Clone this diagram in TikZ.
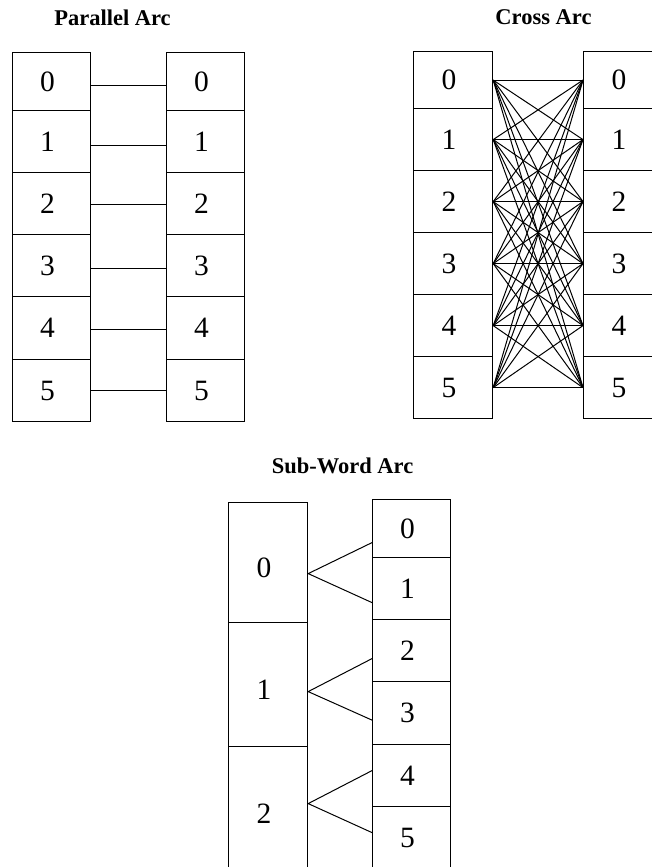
\documentclass[tikz,border=0pt]{standalone}
\usepackage{fontspec}
\setmainfont{Liberation Serif}
\begin{document}
\begin{tikzpicture}[x=1pt,y=-1pt,
  cell/.style={draw, line width=1.2pt, rectangle, inner sep=0pt, anchor=north west},
  digit/.style={font=\fontsize{29.5}{29.5}\selectfont, inner sep=0pt, xshift=-4pt},
  title/.style={font=\fontsize{22.5}{22.5}\selectfont\bfseries, anchor=base, inner sep=0pt},
  wire/.style={line width=1pt}]
\path[use as bounding box, clip] (0,0) rectangle (652,867);

% ---- Parallel Arc ----
\node[title] (tpar) at (112.5,26) {Parallel Arc};
\foreach \i/\t/\h in {0/52/58, 1/110/62, 2/172/62, 3/234/62, 4/296/63, 5/359/62} {
  \node[cell, minimum width=78pt, minimum height=\h*1pt, label={[digit]center:\i}] (PL\i) at (12,\t) {};
  \node[cell, minimum width=78pt, minimum height=\h*1pt, label={[digit]center:\i}] (PR\i) at (166,\t) {};
}
\foreach \i/\d in {0/4, 1/4, 2/1, 3/3, 4/1, 5/0}
  \draw[wire] ([yshift=-\d*1pt]PL\i.east) -- ([yshift=-\d*1pt]PR\i.west);

% ---- Cross Arc ----
\node[title] (tcross) at (543.5,25) {Cross Arc};
\foreach \i/\t/\h in {0/51/57, 1/108/62, 2/170/62, 3/232/62, 4/294/62, 5/356/62} {
  \node[cell, minimum width=79pt, minimum height=\h*1pt, label={[digit]center:\i}] (CL\i) at (413,\t) {};
  \node[cell, minimum width=79pt, minimum height=\h*1pt, label={[digit]center:\i}] (CR\i) at (583,\t) {};
}
\foreach \i in {0,...,5}
  \foreach \j in {0,...,5}
    \draw[wire] (CL\i.east) -- (CR\j.west);

% ---- Sub-Word Arc ----
\node[title] (tsub) at (342.5,473) {Sub-Word Arc};
\foreach \i/\t/\h in {0/502/120, 1/622/124, 2/746/124}
  \node[cell, minimum width=79pt, minimum height=\h*1pt, label={[digit, yshift=-5pt]center:\i}] (SL\i) at (228,\t) {};
\foreach \i/\t/\h in {0/499/58, 1/557/62, 2/619/62, 3/681/63, 4/744/62, 5/806/62}
  \node[cell, minimum width=78pt, minimum height=\h*1pt, label={[digit]center:\i}] (SR\i) at (372,\t) {};
\draw[wire] ([yshift=-14pt]SR0.west) -- ([yshift=-11pt]SL0.east) -- ([yshift=-14pt]SR1.west);
\draw[wire] ([yshift=-8pt]SR2.west) -- ([yshift=-7pt]SL1.east) -- ([yshift=-7pt]SR3.west);
\draw[wire] ([yshift=5pt]SR4.west) -- ([yshift=5pt]SL2.east) -- ([yshift=5pt]SR5.west);
\end{tikzpicture}
\end{document}
